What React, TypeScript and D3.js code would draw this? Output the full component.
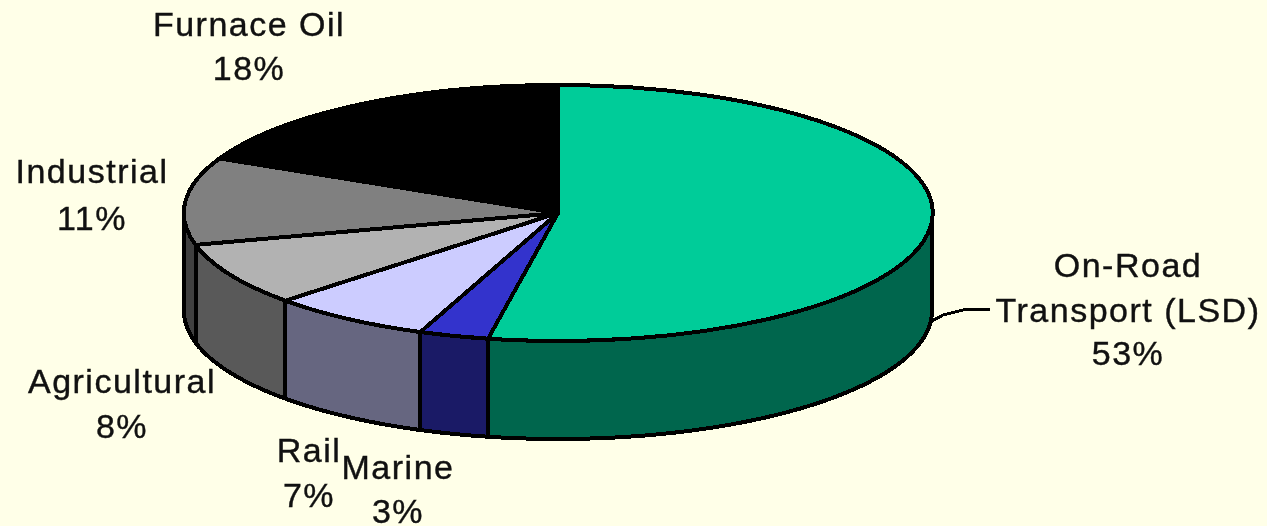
import React from "react";
import * as d3 from "d3";

const categories = ["On-Road Transport (LSD)", "Marine", "Rail", "Agricultural", "Industrial", "Furnace Oil"];
const shares = [53, 3, 7, 8, 11, 18];
const topColors = ["#00cc99", "#3333cc", "#ccccff", "#b2b2b2", "#808080", "#000000"];
const sideColors = ["#00664d", "#1a1a66", "#666680", "#595959", "#404040", "#000000"];

// text lines and where they sit, one entry per category
const labelLines = [
  ["On-Road", "Transport (LSD)", "53%"],
  ["Marine", "3%"],
  ["Rail", "7%"],
  ["Agricultural", "8%"],
  ["Industrial", "11%"],
  ["Furnace Oil", "18%"],
];
const labelX = [1128, 398, 309, 122, 92, 249];
const labelY = [
  [277, 322, 365],
  [479, 523],
  [462, 507],
  [393, 438],
  [183, 230],
  [36, 80],
];

const width = 1267;
const height = 526;
const cx = 558;
const cy = 213;
const rx = 374;
const ry = 128;
const depth = 98;
const bg = "#ffffe8";

const pie = d3.pie<number>().sort(null).value((d) => d);
const arcs = pie(shares);
const arc = d3.arc<d3.PieArcDatum<number>>().innerRadius(0).outerRadius(1);

const px = (t: number) => cx + rx * Math.sin(t);
const py = (t: number) => cy - ry * Math.cos(t);

// the wall of a slice is only seen on the front half of the ellipse
const wallPath = (start: number, end: number) => {
  const a = Math.max(start, Math.PI / 2);
  const b = Math.min(end, (3 * Math.PI) / 2);
  if (b <= a) return null;
  const ts = d3.range(0, 61).map((i) => a + ((b - a) * i) / 60);
  const pts: [number, number][] = [
    ...ts.map((t) => [px(t), py(t)] as [number, number]),
    ...ts.reverse().map((t) => [px(t), py(t) + depth] as [number, number]),
  ];
  return d3.line()(pts) + "Z";
};

const leader = d3.line()([
  [932, 321],
  [943, 315],
  [963, 310],
  [990, 309],
]);

export default function App() {
  return (
    <svg
      width={width}
      height={height}
      style={{ position: "absolute", left: 0, top: 0, background: bg }}
      fontFamily="'Liberation Sans', Arial, sans-serif"
    >
      <rect width={width} height={height} fill={bg} />
      <g stroke="#000" strokeWidth={4} shapeRendering="crispEdges">
        {arcs.map((d, i) => {
          const p = wallPath(d.startAngle, d.endAngle);
          return p ? <path key={i} d={p} fill={sideColors[i]} /> : null;
        })}
        <g transform={`translate(${cx},${cy}) scale(${rx},${ry})`}>
          {arcs.map((d, i) => (
            <path key={i} d={arc(d) as string} fill={topColors[i]} vectorEffect="non-scaling-stroke" />
          ))}
        </g>
        <path d={leader as string} fill="none" strokeWidth={3} />
      </g>
      <g
        textAnchor="middle"
        fontSize={34}
        letterSpacing={1.5}
        fill="#111"
        stroke="#111"
        strokeWidth={0.4}
        style={{ filter: "blur(0.6px)" }}
      >
        {categories.map((c, i) =>
          labelLines[i].map((line, j) => (
            <text key={c + j} x={labelX[i]} y={labelY[i][j]}>
              {line}
            </text>
          ))
        )}
      </g>
    </svg>
  );
}
